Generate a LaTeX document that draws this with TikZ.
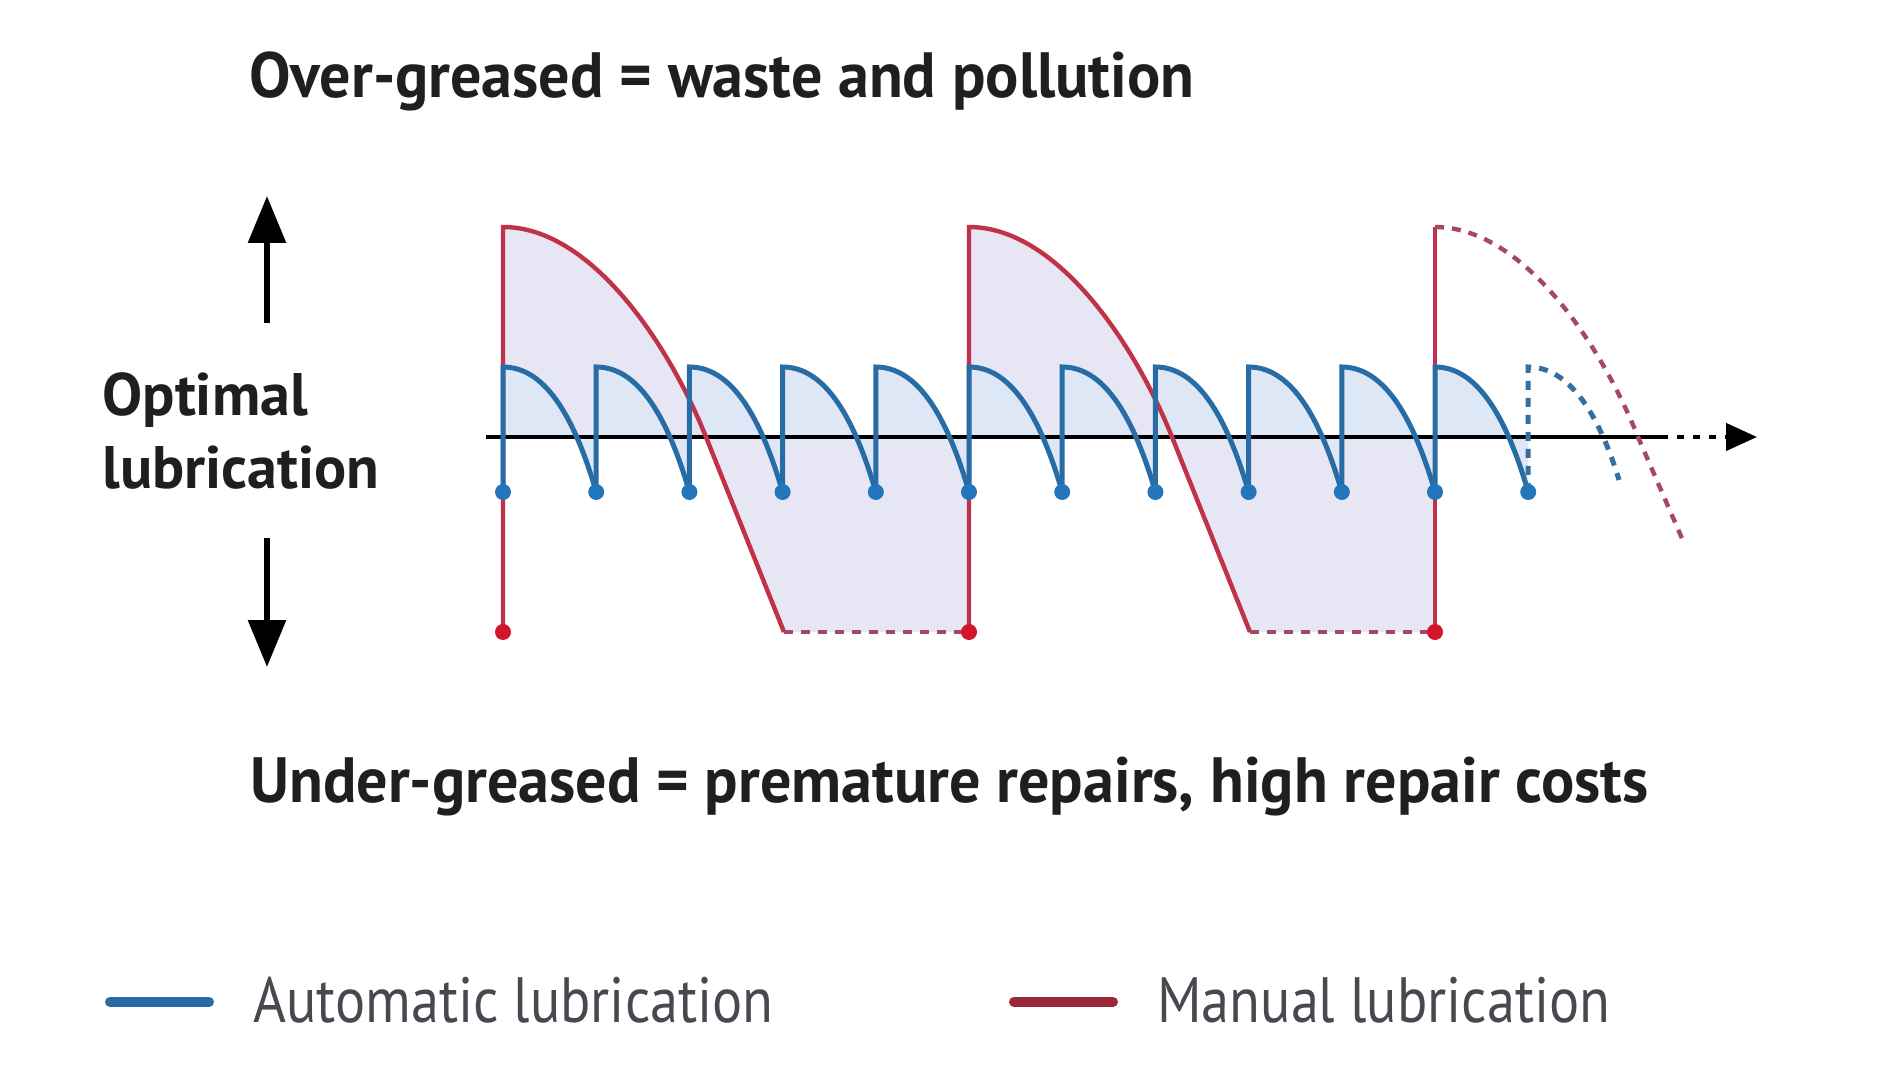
\documentclass[tikz,border=0pt]{standalone}
\usepackage{fontspec}
\setmainfont{PT Sans}
\newfontfamily\headfont{PT Sans}[FakeStretch=0.97]
\newfontfamily\keyfont{PT Sans}[FakeStretch=0.88]
\usetikzlibrary{arrows.meta}
\definecolor{autoblue}{RGB}{40,108,166}
\definecolor{autodot}{RGB}{36,118,188}
\definecolor{manualred}{RGB}{192,50,72}
\definecolor{manualdash}{RGB}{165,72,96}
\definecolor{manualdot}{RGB}{208,22,40}
\definecolor{manualfill}{RGB}{230,230,245}
\definecolor{autofill}{RGB}{221,231,246}
\definecolor{keygray}{RGB}{72,72,80}
\tikzset{
  manualline/.style={draw=manualred, line width=2.2pt},
  manualgap/.style={draw=manualdash, line width=2.2pt, dash pattern=on 4.5pt off 4pt},
  autoline/.style={draw=autoblue, line width=2.5pt},
  autogap/.style={draw=autoblue!85!gray, line width=2.5pt, dash pattern=on 4.5pt off 4pt},
  bigarrow/.style={line width=3pt, -{Triangle[length=23.5pt,width=18.5pt]}},
  label/.style={inner sep=0pt, anchor=base west},
}
\begin{document}
\begin{tikzpicture}[x=0.5pt,y=-0.5pt]
  \useasboundingbox (0,0) rectangle (1890,1085);

  % texts
  \node[label, text=black!88] (over) at (249,98)
    {\headfont\bfseries\fontsize{32pt}{38pt}\selectfont Over-greased = waste and pollution};
  \node[label, text=black!88] (under) at (250,802)
    {\headfont\bfseries\fontsize{32pt}{38pt}\selectfont Under-greased = premature repairs, high repair costs};
  \node[label, text=black!88, align=left, font=\bfseries\fontsize{30pt}{36pt}\selectfont]
    (optimal) at (102,488) {Optimal\\lubrication};

  % arrows beside the label
  \coordinate (upfrom) at (267,323);
  \coordinate (upto) at (267,196);
  \coordinate (downfrom) at (267,538);
  \coordinate (downto) at (267,667);
  \draw[bigarrow] (upfrom) -- (upto);
  \draw[bigarrow] (downfrom) -- (downto);

  % fills
  \foreach \i in {0,1} {
    \fill[manualfill] ({503+466*\i},437) -- ({503+466*\i},227)
      .. controls ({590+466*\i},227) and ({668+466*\i},342) .. ({706+466*\i},437)
      -- ({784+466*\i},632) -- ({969+466*\i},632) -- ({969+466*\i},437) -- cycle;
  }
  \foreach \i [evaluate=\i as \xa using 503+93.2*\i] in {0,...,10} {
    \fill[autofill] (\xa,437) -- (\xa,367)
      .. controls (\xa+40,367) and (\xa+70,412) .. (\xa+93.2,492)
      -- (\xa+93.2,437) -- cycle;
  }

  % axis
  \coordinate (axisstart) at (486,437);
  \coordinate (axisend) at (1661,437);
  \coordinate (axistip) at (1757,437);
  \draw[line width=2.2pt] (axisstart) -- (axisend);
  \draw[line width=2.2pt, dash pattern=on 3.5pt off 4.5pt,
    -{Triangle[length=15.5pt,width=13.5pt]}] (axisend) -- (axistip);

  % manual lubrication
  \foreach \i in {0,1} {
    \draw[manualline] ({503+466*\i},632) -- ({503+466*\i},227)
      .. controls ({590+466*\i},227) and ({668+466*\i},342) .. ({706+466*\i},437)
      -- ({784+466*\i},632);
    \draw[manualgap] ({784+466*\i},632) -- ({969+466*\i},632);
  }
  \draw[manualline] (1435,632) -- (1435,227);
  \draw[manualgap] (1435,227)
    .. controls (1522,227) and (1600,342) .. (1638,437) -- (1684,543);

  % automatic lubrication
  \foreach \i [evaluate=\i as \xa using 503+93.2*\i] in {0,...,10} {
    \draw[autoline] (\xa,492) -- (\xa,367)
      .. controls (\xa+40,367) and (\xa+70,412) .. (\xa+93.2,492);
  }
  \draw[autogap] (1528.2,492) -- (1528.2,367)
    .. controls (1568.2,367) and (1598.2,412) .. (1619,480);

  % dots
  \foreach \i in {0,...,11}
    \fill[autodot] ({503+93.2*\i},492) circle (8);
  \foreach \xa in {503,969,1435}
    \fill[manualdot] (\xa,632) circle (8);

  % legend
  \draw[autoblue, line width=5pt, line cap=round] (110,1002) -- (209,1002);
  \node[label, text=keygray] (autokey) at (253,1022)
    {\keyfont\fontsize{32pt}{38pt}\selectfont Automatic lubrication};
  \draw[manualred!80!black, line width=5pt, line cap=round] (1014,1002) -- (1113,1002);
  \node[label, text=keygray] (manualkey) at (1157,1022)
    {\keyfont\fontsize{32pt}{38pt}\selectfont Manual lubrication};
\end{tikzpicture}
\end{document}
